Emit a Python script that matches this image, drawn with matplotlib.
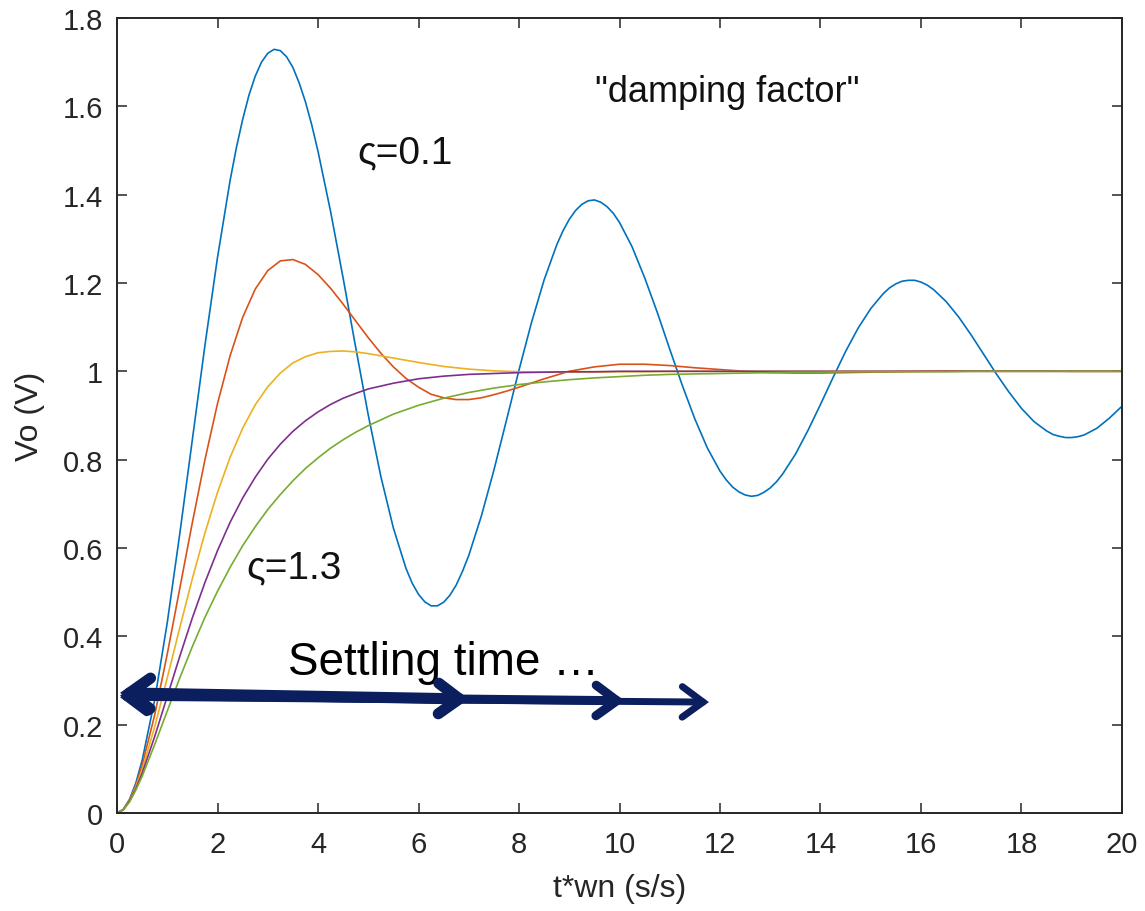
import numpy as np
import matplotlib
matplotlib.use('Agg')
import matplotlib.pyplot as plt
from matplotlib.ticker import FuncFormatter

plt.rcParams['font.family'] = ['Liberation Sans', 'DejaVu Sans']

# step responses (normalised time t*wn)
t_fine = np.linspace(0, 20, 81)    # 0.25 steps, lightly damped curve
t_coarse = np.linspace(0, 20, 41)  # 0.5 steps, the other four

vo_z01 = [0.000, 0.031, 0.119, 0.256, 0.431, 0.633, 0.846, 1.059, 1.258, 1.432,
          1.570, 1.668, 1.720, 1.726, 1.688, 1.610, 1.498, 1.362, 1.211, 1.054,
          0.901, 0.762, 0.645, 0.554, 0.495, 0.469, 0.477, 0.516, 0.583, 0.672,
          0.776, 0.889, 1.003, 1.111, 1.207, 1.286, 1.344, 1.378, 1.388, 1.373,
          1.337, 1.282, 1.212, 1.134, 1.050, 0.968, 0.892, 0.826, 0.774, 0.738,
          0.720, 0.719, 0.736, 0.768, 0.812, 0.866, 0.925, 0.986, 1.045, 1.098,
          1.142, 1.176, 1.198, 1.206, 1.202, 1.185, 1.158, 1.123, 1.082, 1.038,
          0.994, 0.953, 0.916, 0.886, 0.865, 0.853, 0.850, 0.856, 0.871, 0.894,
          0.921]
# extra readings around the start and the peaks / troughs of the blue curve
t_z01_extra = [0.125, 0.375, 2.375, 2.625, 2.875, 3.125, 3.375, 3.625, 3.875,
               5.875, 6.125, 6.375, 6.625, 6.875, 8.875, 9.125, 9.375, 9.625,
               9.875, 12.125, 12.375, 12.625, 12.875, 13.125, 15.375, 15.625,
               15.875, 16.125, 18.625, 18.875, 19.125]
vo_z01_extra = [0.008, 0.068, 1.506, 1.625, 1.700, 1.729, 1.712, 1.653, 1.558,
                0.520, 0.478, 0.469, 0.493, 0.547, 1.318, 1.364, 1.386, 1.383,
                1.358, 0.754, 0.727, 0.717, 0.726, 0.750, 1.189, 1.204,
                1.206, 1.195, 0.857, 0.850, 0.852]

vo_z04 = [0.000, 0.108, 0.360, 0.658, 0.927, 1.122, 1.228, 1.253, 1.219, 1.152,
          1.076, 1.010, 0.964, 0.940, 0.936, 0.947, 0.964, 0.983, 1.000, 1.010,
          1.016, 1.016, 1.013, 1.008, 1.004, 1.000, 0.997, 0.996, 0.996, 0.997,
          0.998, 0.999, 1.000, 1.001, 1.001, 1.001, 1.001, 1.001, 1.000, 1.000,
          1.000]
vo_z07 = [0.000, 0.098, 0.306, 0.531, 0.726, 0.871, 0.965, 1.019, 1.042, 1.046,
          1.040, 1.030, 1.020, 1.011, 1.005, 1.001, 0.999, 0.998, 0.998, 0.998,
          0.999, 0.999, 1.000, 1.000, 1.000, 1.000, 1.000, 1.000, 1.000, 1.000,
          1.000, 1.000, 1.000, 1.000, 1.000, 1.000, 1.000, 1.000, 1.000, 1.000,
          1.000]
vo_z10 = [0.000, 0.090, 0.264, 0.442, 0.594, 0.713, 0.801, 0.864, 0.908, 0.939,
          0.960, 0.973, 0.983, 0.989, 0.993, 0.995, 0.997, 0.998, 0.999, 0.999,
          1.000, 1.000, 1.000, 1.000, 1.000, 1.000, 1.000, 1.000, 1.000, 1.000,
          1.000, 1.000, 1.000, 1.000, 1.000, 1.000, 1.000, 1.000, 1.000, 1.000,
          1.000]
vo_z13 = [0.000, 0.083, 0.231, 0.377, 0.502, 0.605, 0.687, 0.752, 0.804, 0.845,
          0.877, 0.903, 0.923, 0.939, 0.952, 0.962, 0.970, 0.976, 0.981, 0.985,
          0.988, 0.991, 0.993, 0.994, 0.995, 0.996, 0.997, 0.998, 0.998, 0.999,
          0.999, 0.999, 0.999, 0.999, 1.000, 1.000, 1.000, 1.000, 1.000, 1.000,
          1.000]

# extra readings in the fast-changing first part
t_early = [0.125, 0.25, 0.375, 0.75, 1.25, 1.75, 2.25, 2.75, 3.25, 3.75, 4.25, 4.75]
vo_z04_early = [0.008, 0.029, 0.063, 0.222, 0.509, 0.800, 1.035, 1.186, 1.250, 1.242, 1.188, 1.114]
vo_z07_early = [0.007, 0.028, 0.059, 0.195, 0.420, 0.634, 0.805, 0.924, 0.996, 1.033, 1.045, 1.044]
vo_z10_early = [0.007, 0.027, 0.055, 0.173, 0.355, 0.522, 0.658, 0.760, 0.835, 0.888, 0.925, 0.950]
vo_z13_early = [0.007, 0.025, 0.052, 0.155, 0.306, 0.443, 0.556, 0.648, 0.721, 0.780, 0.826, 0.862]
# red undershoot
t_z04_dip = [5.25, 5.75, 6.25, 6.75, 7.25, 7.75]
vo_z04_dip = [1.041, 0.984, 0.948, 0.936, 0.940, 0.955]

x_ticks = [0, 2, 4, 6, 8, 10, 12, 14, 16, 18, 20]
y_ticks = [0, 0.2, 0.4, 0.6, 0.8, 1.0, 1.2, 1.4, 1.6, 1.8]

# settling time arrows: common start, three end points (t, Vo)
settle_start = [(0.06, 0.272), (0.06, 0.266), (0.06, 0.262)]
settle_end = [(7.0, 0.258), (10.1, 0.254), (11.78, 0.251)]
settle_lw = [8, 6.5, 5]

matlab_colors = ['#0072BD', '#D95319', '#EDB120', '#7E2F8E', '#77AC30']
navy = '#0B1F5E'
axis_gray = '#262626'


def merge(t_a, v_a, t_b, v_b):
    t = np.concatenate([t_a, t_b])
    v = np.concatenate([v_a, v_b])
    order = np.argsort(t)
    return t[order], v[order]


fig = plt.figure(figsize=(11.45, 9.12), dpi=100)
ax = fig.add_axes([0.1022, 0.1075, 0.8777, 0.8717])

t, v = merge(t_fine, vo_z01, t_z01_extra, vo_z01_extra)
ax.plot(t, v, color=matlab_colors[0], lw=1.2)
curves = [(vo_z04, t_early + t_z04_dip, vo_z04_early + vo_z04_dip),
          (vo_z07, t_early, vo_z07_early),
          (vo_z10, t_early, vo_z10_early),
          (vo_z13, t_early, vo_z13_early)]
for (vals, t_ex, v_ex), c in zip(curves, matlab_colors[1:]):
    t, v = merge(t_coarse, vals, t_ex, v_ex)
    ax.plot(t, v, color=c, lw=1.2)

ax.set_xlim(0, 20)
ax.set_ylim(0, 1.8)
ax.set_xticks(x_ticks)
ax.set_yticks(y_ticks)
ax.yaxis.set_major_formatter(FuncFormatter(lambda v, p: f'{v:g}'))
ax.tick_params(direction='in', length=7, width=1.1, top=True, right=True,
               labelsize=21, colors=axis_gray)
ax.tick_params(axis='x', pad=12)
ax.tick_params(axis='y', pad=10)
for sp in ax.spines.values():
    sp.set_color(axis_gray)
    sp.set_linewidth(1.4)

ax.set_xlabel('t*wn (s/s)', fontsize=23, color=axis_gray)
ax.set_ylabel('Vo (V)', fontsize=23, color=axis_gray)
ax.xaxis.set_label_coords(0.5, -0.075)
ax.yaxis.set_label_coords(-0.072, 0.5)

# annotations
ax.text(9.51, 1.612, '"damping factor"', fontsize=26, color='#111111')
ax.text(4.78, 1.472, 'ς=0.1', fontsize=28, color='#111111')
ax.text(2.57, 0.534, 'ς=1.3', fontsize=28, color='#111111')
ax.text(3.40, 0.315, 'Settling time …', fontsize=33, color='black')

for s, e, lw in zip(settle_start, settle_end, settle_lw):
    ax.annotate('', xy=e, xytext=s, annotation_clip=False,
                arrowprops=dict(arrowstyle='<->,head_length=15,head_width=11',
                                mutation_scale=1, lw=lw, color=navy,
                                shrinkA=0, shrinkB=0, capstyle='round',
                                joinstyle='miter'))

fig.savefig('out.png', dpi=100, facecolor='white')
